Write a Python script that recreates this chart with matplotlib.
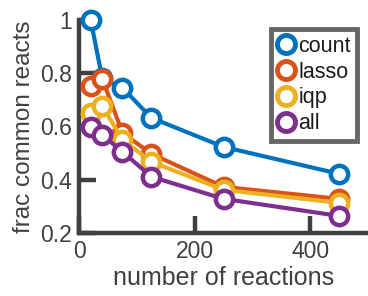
import matplotlib
matplotlib.use("Agg")
import matplotlib.pyplot as plt
from matplotlib.lines import Line2D
from matplotlib.ticker import FuncFormatter

plt.rcParams['font.family'] = ['Liberation Sans', 'DejaVu Sans']

n_reactions = [20, 40, 75, 125, 250, 450]
count = [1.0, 0.78, 0.745, 0.632, 0.523, 0.422]
lasso = [0.753, 0.779, 0.576, 0.497, 0.373, 0.328]
iqp = [0.651, 0.677, 0.55, 0.467, 0.362, 0.313]
all_ = [0.598, 0.568, 0.505, 0.411, 0.328, 0.264]
series_names = ["count", "lasso", "iqp", "all"]
colors = ["#0072BD", "#D95319", "#EDB120", "#7E2F8E"]

xticks = [0, 200, 400]
yticks = [0.2, 0.4, 0.6, 0.8, 1.0]

fig = plt.figure(figsize=(3.68, 2.96), dpi=100)
ax = fig.add_axes([0.215, 0.213, 0.785, 0.72])

axc = "#404040"
for name, vals, c in zip(series_names, [count, lasso, iqp, all_], colors):
    ax.plot(n_reactions, vals, color=c, lw=3, marker='o', ms=12.5,
            mfc='white', mec=c, mew=3.2, clip_on=False, zorder=3)

ax.set_xlim(0, 500)
ax.set_ylim(0.2, 1.0)
ax.set_xticks(xticks)
ax.set_yticks(yticks)
ax.yaxis.set_major_formatter(FuncFormatter(lambda v, p: "1" if abs(v-1) < 1e-9 else f"{v:.1f}"))
for s in ['top', 'right']:
    ax.spines[s].set_visible(False)
for s in ['left', 'bottom']:
    ax.spines[s].set_linewidth(3.2)
    ax.spines[s].set_color(axc)
ax.tick_params(direction='in', length=12, width=3.2, color=axc, labelcolor=axc,
               labelsize=16.5, pad=5)
ax.set_xlabel("number of reactions", fontsize=18, color=axc, labelpad=2)
ax.set_ylabel("frac common reacts", fontsize=17.5, color=axc, labelpad=4)

handles = [Line2D([], [], ls='none', marker='o', ms=13, mfc='white', mec=c, mew=3.5)
           for c in colors]
leg = ax.legend(handles, series_names, loc='upper right', bbox_to_anchor=(0.985, 0.985),
                fontsize=15.5, frameon=True, fancybox=False, handlelength=0.8,
                handletextpad=0.15, borderpad=0.3, labelspacing=0.22, borderaxespad=0.3)
leg.get_frame().set_edgecolor(axc)
leg.get_frame().set_linewidth(3.5)
for t in leg.get_texts():
    t.set_color("#1a1a1a")

fig.savefig("out.png", dpi=100)
